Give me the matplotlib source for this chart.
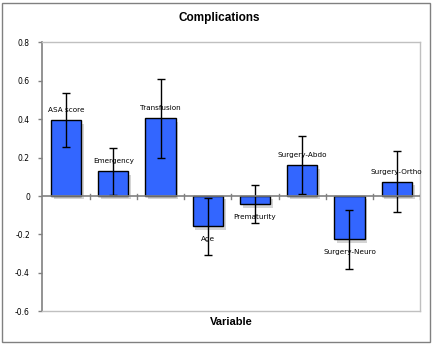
import numpy as np
import matplotlib
matplotlib.use("Agg")
import matplotlib.pyplot as plt
import matplotlib.patheffects as pe
from matplotlib.patches import Rectangle

# coefficients with their error margins
variables = ["ASA score", "Emergency", "Transfusion", "Age", "Prematurity",
             "Surgery-Abdo", "Surgery-Neuro", "Surgery-Ortho"]
coef = [0.394, 0.128, 0.405, -0.158, -0.042, 0.160, -0.226, 0.075]
err = [0.14, 0.124, 0.205, 0.148, 0.10, 0.152, 0.152, 0.158]
yticks = [0.8, 0.6, 0.4, 0.2, 0, -0.2, -0.4, -0.6]
ytick_labels = ["0.8", "0.6", "0.4", "0.2", "0", "-0.2", "-0.4", "-0.6"]

fig = plt.figure(figsize=(4.38, 3.45), dpi=100)
ax = fig.add_axes([0.097, 0.0977, 0.8626, 0.7797])

x = np.arange(len(variables))
shadow = [pe.SimplePatchShadow(offset=(2, -2.5), shadow_rgbFace="#a0a0a0", alpha=0.45), pe.Normal()]
bars = ax.bar(x, coef, width=0.64, color="#3366ff", edgecolor="black", linewidth=1.0, zorder=2)
for b in bars:
    b.set_path_effects(shadow)
ax.errorbar(x, coef, yerr=err, fmt="none", ecolor="black", elinewidth=1.0,
            capsize=2.7, capthick=1.0, zorder=3)

# category names next to the end of each bar
for xi, v, name in zip(x, coef, variables):
    off = 7.2 if v > 0 else -9.4
    ax.annotate(name, (xi, v), xytext=(0, off), textcoords="offset points",
                ha="center", va="center", fontsize=5.2, family="DejaVu Sans", zorder=4)

ax.set_xlim(-0.5, len(variables) - 0.5)
ax.set_ylim(-0.6, 0.8)
ax.set_yticks(yticks)
ax.set_yticklabels(ytick_labels, fontsize=5.5, family="DejaVu Sans")
ax.tick_params(axis="y", length=3, width=1, color="#808080", pad=6)
ax.set_xticks([])

for s in ["top", "right", "bottom"]:
    ax.spines[s].set_color("#c0c0c0")
    ax.spines[s].set_linewidth(1)
ax.spines["left"].set_color("#808080")
ax.spines["left"].set_linewidth(1.2)

# zero line acting as the category axis, ticks between categories
ax.axhline(0, color="#808080", linewidth=1.2, zorder=3.5)
for b in np.arange(0.5, len(variables), 1.0):
    ax.plot([b, b], [-0.013, 0.013], color="#808080", linewidth=1, zorder=3.5)

fig.text(0.5, 0.947, "Complications", ha="center", va="center",
         fontsize=8.5, fontweight="bold", family="Liberation Sans")
ax.set_xlabel("Variable", fontsize=8, fontweight="bold", family="Liberation Sans", labelpad=4)

fig.patches.append(Rectangle((2 / 438, 3 / 345), 428 / 438, 339 / 345, transform=fig.transFigure,
                             fill=False, edgecolor="#808080", linewidth=1))

fig.savefig("out.png", dpi=100)
